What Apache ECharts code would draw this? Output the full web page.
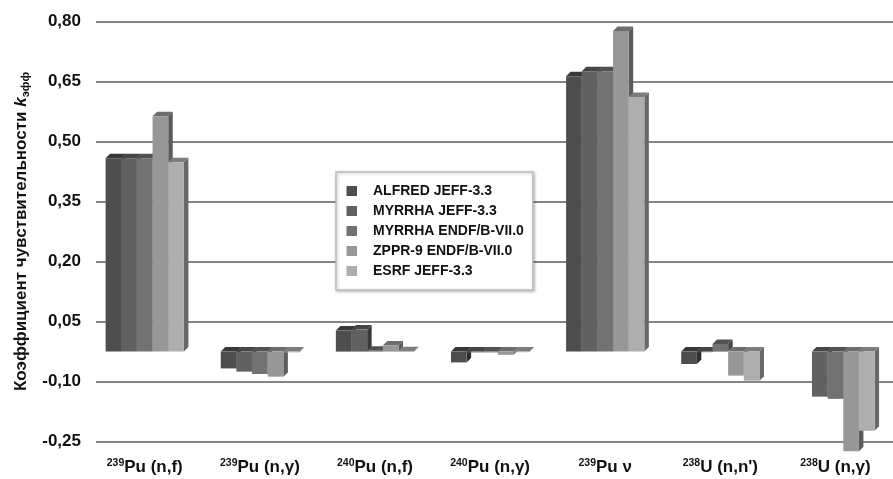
<!DOCTYPE html>
<html><head><meta charset="utf-8">
<script src="https://cdn.jsdelivr.net/npm/echarts@6/dist/echarts.min.js"></script>
<style>html,body{margin:0;padding:0;background:#fff}#c{width:893px;height:479px}</style>
</head><body><div id="c"></div>
<script>
// ---- data ----
const categoryIsotopes = ['239', '239', '240', '240', '239', '238', '238'];
const categoryNames = ['Pu (n,f)', 'Pu (n,γ)', 'Pu (n,f)', 'Pu (n,γ)', 'Pu ν', "U (n,n')", 'U (n,γ)'];
const seriesNames = ['ALFRED JEFF-3.3', 'MYRRHA JEFF-3.3', 'MYRRHA ENDF/B-VII.0', 'ZPPR-9 ENDF/B-VII.0', 'ESRF JEFF-3.3'];
const alfredJeff = [0.483, -0.042, 0.0525, -0.027, 0.688, -0.031, null];
const myrrhaJeff = [0.483, -0.050, 0.055, -0.002, 0.700, -0.001, -0.1125];
const myrrhaEndf = [0.483, -0.056, 0.002, -0.002, 0.700, 0.019, -0.118];
const zpprEndf = [0.588, -0.0625, 0.015, -0.008, 0.801, -0.060, -0.249];
const esrfJeff = [0.473, -0.002, 0.001, -0.001, 0.636, -0.0725, -0.1975];
const yTickValues = [-0.25, -0.10, 0.05, 0.20, 0.35, 0.50, 0.65, 0.80];
const yTickLabels = ['-0,25', '-0,10', '0,05', '0,20', '0,35', '0,50', '0,65', '0,80'];

// ---- styles ----
const seriesColors = ['#4e4e4e', '#616161', '#727272', '#979797', '#aeaeae'];
const allValues = [alfredJeff, myrrhaJeff, myrrhaEndf, zpprEndf, esrfJeff];
const BAR_FRAC = 0.136;
const DEPTH = 4.5;
const FONT = '"Liberation Sans", Arial, sans-serif';

function shade(hex, f) {
  const n = parseInt(hex.slice(1), 16);
  const r = Math.round(((n >> 16) & 255) * f), g = Math.round(((n >> 8) & 255) * f), b = Math.round((n & 255) * f);
  return 'rgb(' + r + ',' + g + ',' + b + ')';
}

function makeRender(k) {
  const c = seriesColors[k], topC = shade(c, 0.72), sideC = shade(c, 0.6);
  return function (params, api) {
    const cat = api.value(0), val = api.value(1);
    if (val === null || val === undefined || isNaN(val)) return;
    const base = api.coord([cat, 0]);
    const tip = api.coord([cat, val]);
    const band = api.size([1, 0])[0];
    const w = band * BAR_FRAC;
    const x0 = base[0] - 2.5 * w + k * w;
    const yA = Math.min(base[1], tip[1]), yB = Math.max(base[1], tip[1]);
    const d = DEPTH;
    return {
      type: 'group',
      children: [
        { type: 'polygon', shape: { points: [[x0 + w, yA], [x0 + w + d, yA - d], [x0 + w + d, yB - d], [x0 + w, yB]] }, style: { fill: sideC } },
        { type: 'polygon', shape: { points: [[x0, yA], [x0 + d, yA - d], [x0 + w + d, yA - d], [x0 + w, yA]] }, style: { fill: topC } },
        { type: 'rect', shape: { x: x0, y: yA, width: w, height: Math.max(yB - yA, 0.6) }, style: { fill: c } }
      ]
    };
  };
}

const chart = echarts.init(document.getElementById('c'), null, { renderer: 'canvas' });
const span = yTickValues[yTickValues.length - 1] - yTickValues[0];
const step = yTickValues[1] - yTickValues[0];

const option = {
  backgroundColor: '#ffffff',
  animation: false,
  textStyle: { fontFamily: FONT },
  grid: [
    { left: 96, top: 21.3, width: 807, height: 420.4 },
    { left: 87.2, top: 31.3, width: 807.1, height: 420.4 }
  ],
  legend: {
    orient: 'vertical',
    left: 336, top: 172,
    padding: [12, 9, 12, 10.5],
    itemGap: 6,
    itemWidth: 10.5, itemHeight: 10,
    icon: 'rect',
    backgroundColor: '#ffffff',
    borderColor: '#bdbdbd', borderWidth: 1.5,
    shadowColor: 'rgba(0,0,0,0.25)', shadowBlur: 3, shadowOffsetX: 1, shadowOffsetY: 1,
    textStyle: { fontFamily: FONT, fontSize: 14, fontWeight: 'bold', color: '#111', padding: [0, 0, 0, 11] },
    data: seriesNames
  },
  xAxis: [
    { gridIndex: 0, type: 'category', data: categoryNames, show: false },
    {
      gridIndex: 1, type: 'category', data: categoryNames,
      axisLine: { show: false }, axisTick: { show: false }, splitLine: { show: false },
      axisLabel: {
        margin: 6,
        interval: 0,
        formatter: function (v, i) { return '{s|' + categoryIsotopes[i] + '}{b|' + v + '}'; },
        rich: {
          s: { fontFamily: FONT, fontSize: 10.5, fontWeight: 'bold', color: '#111', verticalAlign: 'top', lineHeight: 10 },
          b: { fontFamily: FONT, fontSize: 17, fontWeight: 'bold', color: '#111', lineHeight: 20 }
        }
      }
    }
  ],
  yAxis: [
    {
      gridIndex: 0, type: 'value', min: 0, max: span, interval: step,
      axisLine: { show: false }, axisTick: { show: false },
      splitLine: { show: true, lineStyle: { color: '#858585', width: 2 } },
      axisLabel: {
        margin: 15, fontFamily: FONT, fontSize: 17, fontWeight: 'bold', color: '#111',
        formatter: function (u) {
          const v = u + yTickValues[0];
          for (let i = 0; i < yTickValues.length; i++) if (Math.abs(yTickValues[i] - v) < 1e-6) return yTickLabels[i];
          return '';
        }
      },
      name: '{a|Коэффициент чувствительности }{k|k}{e|эфф}',
      nameLocation: 'middle', nameRotate: 90, nameGap: 64,
      nameTextStyle: {
        rich: {
          a: { fontFamily: FONT, fontSize: 17, fontWeight: 'bold', color: '#111', lineHeight: 20 },
          k: { fontFamily: FONT, fontSize: 17, fontWeight: 'bold', fontStyle: 'italic', color: '#111', lineHeight: 20 },
          e: { fontFamily: FONT, fontSize: 11, fontWeight: 'bold', color: '#111', lineHeight: 11, verticalAlign: 'bottom' }
        }
      }
    },
    { gridIndex: 1, type: 'value', min: yTickValues[0], max: yTickValues[yTickValues.length - 1], show: false, splitLine: { show: false } }
  ],
  series: seriesNames.map(function (name, k) {
    return {
      type: 'custom', name: name,
      xAxisIndex: 1, yAxisIndex: 1,
      clip: false,
      itemStyle: { color: seriesColors[k] },
      encode: { x: 0, y: 1 },
      renderItem: makeRender(k),
      data: allValues[k].map(function (v, i) { return [i, v]; })
    };
  })
};
chart.setOption(option);
</script>
</body></html>
